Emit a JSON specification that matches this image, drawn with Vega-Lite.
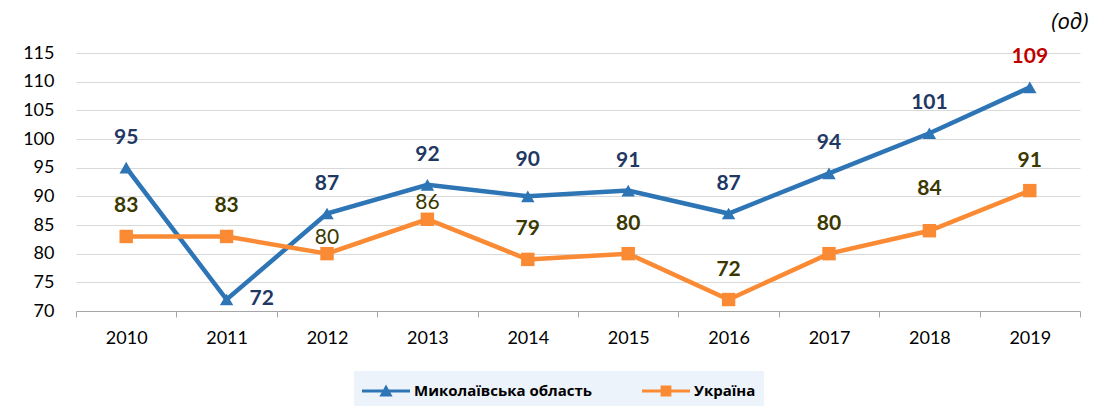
{
  "$schema": "https://vega.github.io/schema/vega-lite/v6.json",
  "width": 1004,
  "height": 258,
  "autosize": {"type": "none"},
  "padding": {"left": 76, "top": 53, "right": 18, "bottom": 95},
  "background": "white",
  "title": {"text": "(од)", "anchor": "end", "font": "Open Sans", "fontStyle": "italic", "fontWeight": "normal", "fontSize": 22, "color": "#000000", "offset": 10, "dx": 8},
  "data": {"values": [
    {"year": "2010", "series": "Миколаївська область", "value": 95},
    {"year": "2011", "series": "Миколаївська область", "value": 72},
    {"year": "2012", "series": "Миколаївська область", "value": 87},
    {"year": "2013", "series": "Миколаївська область", "value": 92},
    {"year": "2014", "series": "Миколаївська область", "value": 90},
    {"year": "2015", "series": "Миколаївська область", "value": 91},
    {"year": "2016", "series": "Миколаївська область", "value": 87},
    {"year": "2017", "series": "Миколаївська область", "value": 94},
    {"year": "2018", "series": "Миколаївська область", "value": 101},
    {"year": "2019", "series": "Миколаївська область", "value": 109},
    {"year": "2010", "series": "Україна", "value": 83},
    {"year": "2011", "series": "Україна", "value": 83},
    {"year": "2012", "series": "Україна", "value": 80},
    {"year": "2013", "series": "Україна", "value": 86},
    {"year": "2014", "series": "Україна", "value": 79},
    {"year": "2015", "series": "Україна", "value": 80},
    {"year": "2016", "series": "Україна", "value": 72},
    {"year": "2017", "series": "Україна", "value": 80},
    {"year": "2018", "series": "Україна", "value": 84},
    {"year": "2019", "series": "Україна", "value": 91}
  ]},
  "encoding": {
    "x": {"field": "year", "type": "ordinal", "scale": {"type": "band", "paddingInner": 0, "paddingOuter": 0},
      "axis": {"title": null, "labelAngle": 0, "tickBand": "extent", "grid": false, "domainColor": "#A6A6A6", "tickColor": "#A6A6A6", "tickSize": 6, "labelPadding": 12, "labelFont": "Lato", "labelFontSize": 18, "labelColor": "#000000"}},
    "y": {"field": "value", "type": "quantitative", "scale": {"domain": [70, 115], "nice": false, "zero": false},
      "axis": {"title": null, "values": [70, 75, 80, 85, 90, 95, 100, 105, 110, 115], "domain": false, "ticks": false, "labelPadding": 22, "gridColor": "#D9D9D9", "gridWidth": 1, "labelFont": "Lato", "labelFontSize": 18, "labelColor": "#000000"}}
  },
  "layer": [
    {
      "mark": {"type": "line", "strokeWidth": 4.5},
      "encoding": {
        "color": {"field": "series", "type": "nominal",
          "scale": {"domain": ["Миколаївська область", "Україна"], "range": ["#2E75B6", "#FA8B34"]},
          "legend": {
            "title": null, "orient": "none", "legendX": 278, "legendY": 318, "direction": "horizontal",
            "fillColor": "#EDF3FA", "padding": 8, "columnPadding": 49, "labelLimit": 400,
            "labelFont": "Open Sans", "labelFontWeight": "bold", "labelFontSize": 15, "labelColor": "#000000",
            "symbolSize": 576, "labelOffset": 28,
            "encode": {"symbols": {"update": {
              "shape": {"signal": "datum.value === 'Україна' ? 'M-1,-0.13H3V0.13H-1Z M0.55,-0.45H1.45V0.45H0.55Z' : 'M-1,-0.13H3V0.13H-1Z M0.45,0.45L1,-0.55L1.55,0.45Z'"},
              "fill": {"signal": "datum.value === 'Україна' ? '#FA8B34' : '#2E75B6'"},
              "stroke": {"value": "transparent"},
              "strokeWidth": {"value": 0},
              "opacity": {"value": 1}
            }}}
          }}
      }
    },
    {
      "mark": {"type": "point", "filled": true, "opacity": 1},
      "encoding": {
        "color": {"field": "series", "type": "nominal", "legend": null},
        "shape": {"condition": {"test": "datum.series === 'Україна'", "value": "square"}, "value": "triangle-up"},
        "size": {"value": 180}
      }
    },
    {
      "transform": [{"filter": "!(datum.series === 'Україна' && (datum.year === '2012' || datum.year === '2013' || datum.year === '2018')) && !(datum.series !== 'Україна' && (datum.year === '2011' || datum.year === '2014'))"}],
      "mark": {"type": "text", "font": "Lato", "fontWeight": "bold", "fontSize": 21, "baseline": "middle", "dy": -30},
      "encoding": {
        "text": {"field": "value", "type": "quantitative"},
        "color": {"condition": [{"test": "datum.value === 109", "value": "#C00000"}, {"test": "datum.series === 'Україна'", "value": "#3B3800"}], "value": "#1F3864"}
      }
    },
    {
      "transform": [{"filter": "datum.series !== 'Україна' && datum.year === '2014'"}],
      "mark": {"type": "text", "font": "Lato", "fontWeight": "bold", "fontSize": 21, "baseline": "middle", "dy": -36, "color": "#1F3864"},
      "encoding": {"text": {"field": "value", "type": "quantitative"}}
    },
    {
      "transform": [{"filter": "datum.series !== 'Україна' && datum.year === '2011'"}],
      "mark": {"type": "text", "font": "Lato", "fontWeight": "bold", "fontSize": 21, "baseline": "middle", "align": "left", "dx": 23, "dy": -1, "color": "#1F3864"},
      "encoding": {"text": {"field": "value", "type": "quantitative"}}
    },
    {
      "transform": [{"filter": "datum.series === 'Україна' && datum.year === '2018'"}],
      "mark": {"type": "text", "font": "Lato", "fontWeight": "bold", "fontSize": 21, "baseline": "middle", "dy": -42, "color": "#3B3800"},
      "encoding": {"text": {"field": "value", "type": "quantitative"}}
    },
    {
      "transform": [{"filter": "datum.series === 'Україна' && (datum.year === '2012' || datum.year === '2013')"}],
      "mark": {"type": "text", "font": "Lato", "fontWeight": "normal", "fontSize": 21, "baseline": "middle", "dy": -16, "color": "#3B3800"},
      "encoding": {"text": {"field": "value", "type": "quantitative"}}
    }
  ],
  "config": {"view": {"stroke": null}}
}
